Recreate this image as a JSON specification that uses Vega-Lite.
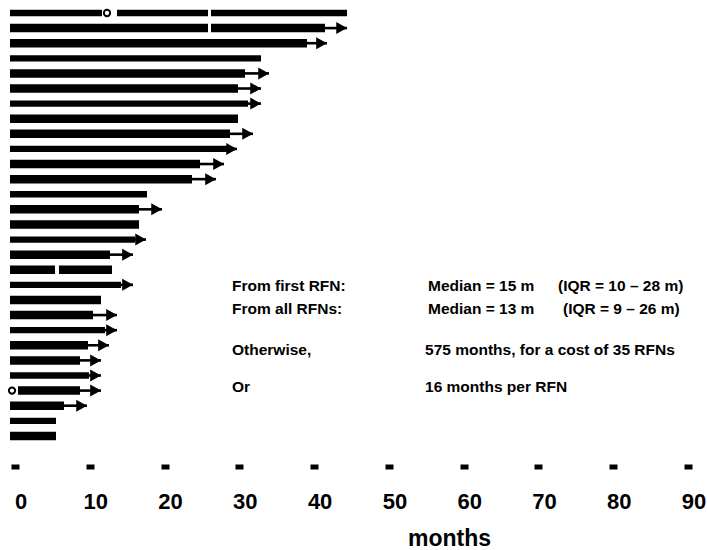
{
  "$schema": "https://vega.github.io/schema/vega-lite/v6.json",
  "width": 673,
  "height": 451,
  "autosize": {"type": "none"},
  "padding": {"left": 10, "top": 0, "right": 24, "bottom": 99},
  "background": "white",
  "config": {
    "view": {"stroke": null},
    "font": "Liberation Sans",
    "axisX": {
      "domain": false,
      "grid": false,
      "ticks": true,
      "tickSize": 5,
      "tickWidth": 8,
      "tickColor": "black",
      "tickOffset": 5,
      "offset": 13,
      "labelFont": "Liberation Sans",
      "labelFontSize": 22,
      "labelFontWeight": "bold",
      "labelColor": "black",
      "labelBaseline": "alphabetic",
      "labelPadding": 39,
      "labelOffset": 5.5,
      "labelFlush": false,
      "labelOverlap": false,
      "titleFont": "Liberation Sans",
      "titleFontSize": 23,
      "titleFontWeight": "bold",
      "titleColor": "black",
      "titleBaseline": "alphabetic",
      "titleAlign": "center",
      "titleX": 439,
      "titleY": 81
    }
  },
  "datasets": {
    "segments": [
      {"row": 1, "start": 0, "end": 12.3, "kind": "thin"},
      {"row": 1, "start": 14.31, "end": 26.48, "kind": "thin"},
      {"row": 1, "start": 26.88, "end": 45.07, "kind": "thin"},
      {"row": 2, "start": 0, "end": 26.48, "kind": "thick"},
      {"row": 2, "start": 26.88, "end": 42.12, "kind": "thick"},
      {"row": 3, "start": 0, "end": 39.72, "kind": "thick"},
      {"row": 4, "start": 0, "end": 33.57, "kind": "thin"},
      {"row": 5, "start": 0, "end": 31.43, "kind": "thick"},
      {"row": 6, "start": 0, "end": 30.49, "kind": "thick"},
      {"row": 7, "start": 0, "end": 31.83, "kind": "thin"},
      {"row": 8, "start": 0, "end": 30.49, "kind": "thick"},
      {"row": 9, "start": 0, "end": 29.42, "kind": "thick"},
      {"row": 10, "start": 0, "end": 29.02, "kind": "thin"},
      {"row": 11, "start": 0, "end": 25.41, "kind": "thick"},
      {"row": 12, "start": 0, "end": 24.34, "kind": "thick"},
      {"row": 13, "start": 0, "end": 18.32, "kind": "thin"},
      {"row": 14, "start": 0, "end": 17.25, "kind": "thick"},
      {"row": 15, "start": 0, "end": 17.25, "kind": "thick"},
      {"row": 16, "start": 0, "end": 16.72, "kind": "thin"},
      {"row": 17, "start": 0, "end": 13.37, "kind": "thick"},
      {"row": 18, "start": 0, "end": 6.02, "kind": "thick"},
      {"row": 18, "start": 6.55, "end": 13.64, "kind": "thick"},
      {"row": 19, "start": 0, "end": 14.84, "kind": "thin"},
      {"row": 20, "start": 0, "end": 12.17, "kind": "thick"},
      {"row": 21, "start": 0, "end": 11.1, "kind": "thick"},
      {"row": 22, "start": 0, "end": 12.7, "kind": "thin"},
      {"row": 23, "start": 0, "end": 10.43, "kind": "thick"},
      {"row": 24, "start": 0, "end": 9.36, "kind": "thick"},
      {"row": 25, "start": 0, "end": 10.56, "kind": "thin"},
      {"row": 26, "start": 1.07, "end": 9.36, "kind": "thick"},
      {"row": 27, "start": 0, "end": 7.22, "kind": "thick"},
      {"row": 28, "start": 0, "end": 6.15, "kind": "thin"},
      {"row": 29, "start": 0, "end": 6.15, "kind": "thick"}
    ],
    "arrows": [
      {"row": 2, "from": 42.12, "tip": 45.07},
      {"row": 3, "from": 39.72, "tip": 42.39},
      {"row": 5, "from": 31.43, "tip": 34.64},
      {"row": 6, "from": 30.49, "tip": 33.57},
      {"row": 7, "from": 31.83, "tip": 33.57},
      {"row": 9, "from": 29.42, "tip": 32.5},
      {"row": 10, "from": 29.02, "tip": 30.36},
      {"row": 11, "from": 25.41, "tip": 28.62},
      {"row": 12, "from": 24.34, "tip": 27.55},
      {"row": 14, "from": 17.25, "tip": 20.33},
      {"row": 16, "from": 16.72, "tip": 18.19},
      {"row": 17, "from": 13.37, "tip": 16.45},
      {"row": 19, "from": 14.84, "tip": 16.45},
      {"row": 21, "from": 11.1, "tip": 14.31},
      {"row": 22, "from": 12.7, "tip": 14.31},
      {"row": 23, "from": 10.43, "tip": 13.24},
      {"row": 24, "from": 9.36, "tip": 12.17},
      {"row": 25, "from": 10.56, "tip": 12.17},
      {"row": 26, "from": 9.36, "tip": 12.17},
      {"row": 27, "from": 7.22, "tip": 10.3}
    ],
    "markers": [
      {"row": 1, "at": 12.97},
      {"row": 26, "at": 0.27}
    ],
    "notes": [
      {"row": 19.05, "at": 29.69, "label": "From first RFN:"},
      {"row": 19.05, "at": 55.9, "label": "Median = 15 m"},
      {"row": 19.05, "at": 73.28, "label": "(IQR = 10 – 28 m)"},
      {"row": 20.6, "at": 29.69, "label": "From all RFNs:"},
      {"row": 20.6, "at": 55.9, "label": "Median = 13 m"},
      {"row": 20.6, "at": 73.95, "label": "(IQR = 9 – 26 m)"},
      {"row": 23.3, "at": 29.69, "label": "Otherwise,"},
      {"row": 23.3, "at": 55.5, "label": "575 months, for a cost of 35 RFNs"},
      {"row": 25.75, "at": 29.69, "label": "Or"},
      {"row": 25.75, "at": 55.5, "label": "16 months per RFN"}
    ]
  },
  "layer": [
    {
      "data": {"name": "segments"},
      "mark": {"type": "rule", "color": "black", "strokeCap": "butt"},
      "encoding": {
        "x": {"field": "start", "type": "quantitative", "title": "months", "scale": {"domain": [0, 90], "nice": false, "zero": false}, "axis": {"values": [0, 10, 20, 30, 40, 50, 60, 70, 80, 90]}},
        "x2": {"field": "end"},
        "y": {"field": "row", "type": "quantitative", "axis": null, "scale": {"domain": [0.14, 30], "reverse": true, "nice": false, "zero": false}},
        "size": {"field": "kind", "type": "nominal", "legend": null, "scale": {"domain": ["thick", "thin"], "range": [8.5, 6.3]}}
      }
    },
    {
      "data": {"name": "arrows"},
      "mark": {"type": "rule", "color": "black", "strokeWidth": 2.6, "strokeCap": "butt"},
      "encoding": {
        "x": {"field": "from", "type": "quantitative", "title": "months"},
        "x2": {"field": "tip"},
        "y": {"field": "row", "type": "quantitative", "axis": null}
      }
    },
    {
      "data": {"name": "arrows"},
      "mark": {"type": "point", "shape": "M0,0L-1.8,-1L-1.8,1Z", "filled": true, "color": "black", "opacity": 1, "size": 144, "strokeWidth": 0},
      "encoding": {
        "x": {"field": "tip", "type": "quantitative", "title": "months"},
        "y": {"field": "row", "type": "quantitative", "axis": null}
      }
    },
    {
      "data": {"name": "markers"},
      "mark": {"type": "point", "shape": "circle", "filled": false, "fill": "white", "stroke": "black", "strokeWidth": 2, "opacity": 1, "size": 40},
      "encoding": {
        "x": {"field": "at", "type": "quantitative", "title": "months"},
        "y": {"field": "row", "type": "quantitative", "axis": null}
      }
    },
    {
      "data": {"name": "notes"},
      "mark": {"type": "text", "align": "left", "baseline": "middle", "font": "Liberation Sans", "fontSize": 15.5, "fontWeight": "bold", "color": "black"},
      "encoding": {
        "x": {"field": "at", "type": "quantitative", "title": "months"},
        "y": {"field": "row", "type": "quantitative", "axis": null},
        "text": {"field": "label", "type": "nominal"}
      }
    }
  ]
}
